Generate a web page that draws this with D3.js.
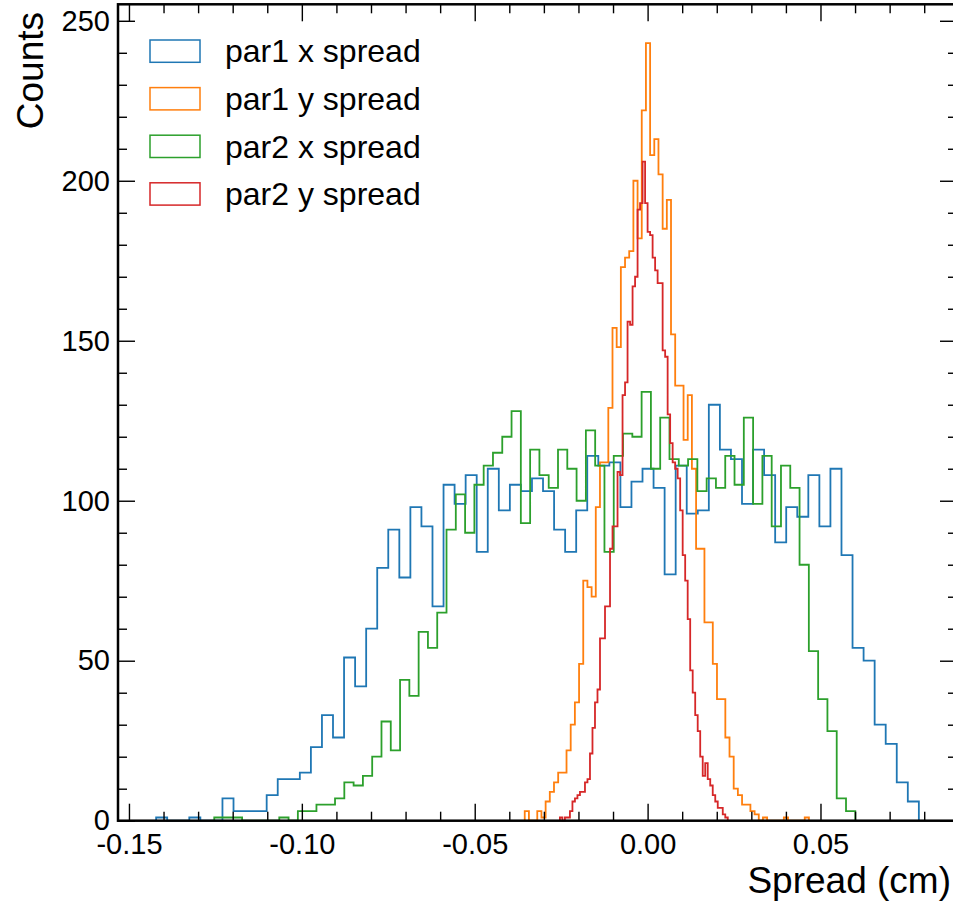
<!DOCTYPE html>
<html lang="en">

<head>
    <meta charset="UTF-8">
    <title>Spread histograms</title>
    <style>
        body {
            margin: 0;
            background: #fff;
        }

        svg {
            display: block;
            font-family: "Liberation Sans", Arial, sans-serif;
        }
    </style>
</head>

<body>
    <div class="box"></div>
    <script src="https://d3js.org/d3.v7.min.js"></script>

    <script>
        // legend / series
        const seriesNames = ['par1 x spread', 'par1 y spread', 'par2 x spread', 'par2 y spread'];
        const seriesColors = ['#1f77b4', '#ff7f0e', '#2ca02c', '#d62728'];

        // first bin edge and bin width (cm) of every histogram
        const binStarts = [-0.14214, -0.035536, -0.125333, -0.025362];
        const binWidths = [0.003197, 0.0012087, 0.002687, 0.0007246];

        // bin counts
        const par1xCounts = [1, 0, 0, 1, 0, 0, 7, 3, 3, 3, 8, 13, 13, 15, 23, 33, 26, 51, 42, 60, 79, 91, 76, 98, 92, 67,
            105, 99, 108, 84, 110, 97, 105, 103, 107, 103, 91, 84, 97, 114, 111, 112, 98, 106, 110, 104, 77, 111, 96, 97,
            130, 116, 113, 99, 116, 108, 87, 98, 95, 108, 92, 110, 83, 54, 50, 30, 24, 12, 6];
        const par1yCounts = [3, 0, 0, 3, 1, 6, 9, 12, 15, 15, 22, 30, 37, 49, 75, 73, 70, 98, 112, 112, 129, 154, 148,
            173, 176, 178, 200, 182, 222, 243, 208, 213, 202, 185, 194, 152, 136, 136, 119, 133, 110, 85, 85, 62, 62, 49,
            38, 38, 26, 20, 10, 8, 5, 5, 3, 2, 0, 1, 0, 0, 0, 0, 1, 0, 0, 0, 0, 1];
        const par2xCounts = [1, 1, 1, 0, 0, 0, 0, 1, 0, 3, 3, 5, 5, 7, 12, 11, 14, 20, 31, 22, 44, 39, 59, 54, 65, 91,
            102, 90, 105, 111, 115, 120, 128, 93, 116, 108, 104, 116, 110, 100, 122, 111, 84, 114, 121, 120, 134, 110, 126,
            113, 111, 113, 103, 107, 104, 114, 105, 126, 99, 114, 92, 111, 104, 80, 53, 38, 28, 7, 3];
        const par2yCounts = [1, 0, 1, 1, 3, 6, 7, 8, 9, 9, 12, 13, 21, 29, 37, 41, 57, 57, 67, 67, 85, 92, 92, 109, 108,
            133, 137, 156, 155, 167, 170, 191, 193, 206, 193, 184, 183, 176, 172, 168, 168, 147, 145, 127, 118, 112, 110,
            107, 97, 83, 75, 63, 47, 40, 33, 28, 20, 14, 18, 13, 11, 8, 6, 4, 4, 2, 1];
        const seriesCounts = [par1xCounts, par1yCounts, par2xCounts, par2yCounts];

        // tick labels
        const xTicks = [-0.15, -0.10, -0.05, 0.00, 0.05];
        const yTicks = [0, 50, 100, 150, 200, 250];

        {
            const svg = d3.select('.box').append('svg')
                .attr('width', 953)
                .attr('height', 907);

            const width = +svg.attr('width');
            const height = +svg.attr('height');
            // right edge of the axes lies just outside the picture
            const margin = { top: 4.3, right: -4, bottom: 86.3, left: 118 };
            const innerWidth = width - margin.left - margin.right;
            const innerHeight = height - margin.top - margin.bottom;

            const series = seriesNames.map((name, i) => ({
                name,
                color: seriesColors[i],
                lo: binStarts[i],
                w: binWidths[i],
                counts: seriesCounts[i]
            }));

            // matplotlib style 5% margins on x, 5% headroom on y
            const lo = d3.min(series, s => s.lo);
            const hi = d3.max(series, s => s.lo + s.counts.length * s.w);
            const pad = (hi - lo) * 0.05;

            const xScale = d3.scaleLinear()
                .domain([lo - pad, hi + pad])
                .range([0, innerWidth]);

            const yScale = d3.scaleLinear()
                .domain([0, d3.max(series, s => d3.max(s.counts)) * 1.05])
                .range([innerHeight, 0]);

            const g = svg.append('g')
                .attr('transform', `translate(${margin.left}, ${margin.top})`);

            // step outline of a histogram
            const stepPoints = s => {
                const pts = [[s.lo, 0]];
                s.counts.forEach((c, i) => {
                    pts.push([s.lo + i * s.w, c]);
                    pts.push([s.lo + (i + 1) * s.w, c]);
                });
                pts.push([s.lo + s.counts.length * s.w, 0]);
                return pts;
            };

            const line = d3.line()
                .x(d => xScale(d[0]))
                .y(d => yScale(d[1]));

            g.selectAll('.hist').data(series).join('path')
                .attr('class', 'hist')
                .attr('d', d => line(stepPoints(d)))
                .attr('fill', 'none')
                .attr('stroke', d => d.color)
                .attr('stroke-width', 1.8)
                .attr('stroke-linejoin', 'miter');

            // minor tick positions
            const [x0, x1] = xScale.domain();
            const xMinor = d3.range(Math.ceil(x0 * 100), Math.floor(x1 * 100) + 1)
                .filter(k => k % 5 !== 0).map(k => k / 100);
            const yMinor = d3.range(0, yScale.domain()[1], 10).filter(v => v % 50 !== 0);

            const MAJOR = 17, MINOR = 9;
            const cleanAxis = sel => {
                sel.select('.domain').remove();
                sel.selectAll('.tick line').attr('stroke', '#000').attr('stroke-width', 1.4);
                sel.selectAll('.tick text')
                    .attr('fill', '#000')
                    .attr('font-size', '29px')
                    .attr('font-family', '"Liberation Sans", Arial, sans-serif');
                sel.attr('font-family', null).attr('font-size', null);
            };

            // bottom
            g.append('g').attr('transform', `translate(0, ${innerHeight})`)
                .call(d3.axisBottom(xScale).tickValues(xTicks).tickSize(-MAJOR).tickPadding(13)
                    .tickFormat(d => d.toFixed(2)))
                .call(cleanAxis);
            g.append('g').attr('transform', `translate(0, ${innerHeight})`)
                .call(d3.axisBottom(xScale).tickValues(xMinor).tickSize(-MINOR).tickFormat(''))
                .call(cleanAxis);
            // top
            g.append('g')
                .call(d3.axisTop(xScale).tickValues(xTicks).tickSize(-MAJOR).tickFormat(''))
                .call(cleanAxis);
            g.append('g')
                .call(d3.axisTop(xScale).tickValues(xMinor).tickSize(-MINOR).tickFormat(''))
                .call(cleanAxis);
            // left
            g.append('g')
                .call(d3.axisLeft(yScale).tickValues(yTicks).tickSize(-MAJOR).tickPadding(8)
                    .tickFormat(d3.format('d')))
                .call(cleanAxis);
            g.append('g')
                .call(d3.axisLeft(yScale).tickValues(yMinor).tickSize(-MINOR).tickFormat(''))
                .call(cleanAxis);
            // right
            g.append('g').attr('transform', `translate(${innerWidth}, 0)`)
                .call(d3.axisRight(yScale).tickValues(yTicks).tickSize(-MAJOR).tickFormat(''))
                .call(cleanAxis);
            g.append('g').attr('transform', `translate(${innerWidth}, 0)`)
                .call(d3.axisRight(yScale).tickValues(yMinor).tickSize(-MINOR).tickFormat(''))
                .call(cleanAxis);

            // frame
            g.append('rect')
                .attr('width', innerWidth)
                .attr('height', innerHeight)
                .attr('fill', 'none')
                .attr('stroke', '#000')
                .attr('stroke-width', 2.5);

            // axis titles
            svg.append('text')
                .text('Counts')
                .attr('transform', 'translate(43, 12) rotate(-90)')
                .attr('text-anchor', 'end')
                .attr('font-size', '37px');

            svg.append('text')
                .text('Spread (cm)')
                .attr('x', 951)
                .attr('y', 893)
                .attr('text-anchor', 'end')
                .attr('font-size', '37px');

            // legend
            const legend = svg.append('g').attr('class', 'legend');
            legend.selectAll('rect').data(series).join('rect')
                .attr('x', 150)
                .attr('y', (d, i) => 40 + i * 47.6)
                .attr('width', 50)
                .attr('height', 22.3)
                .attr('fill', 'none')
                .attr('stroke', d => d.color)
                .attr('stroke-width', 1.5);
            legend.selectAll('text').data(series).join('text')
                .text(d => d.name)
                .attr('x', 225)
                .attr('y', (d, i) => 62.3 + i * 47.6)
                .attr('font-size', '32px')
                .attr('fill', '#000');
        }
    </script>
</body>

</html>
